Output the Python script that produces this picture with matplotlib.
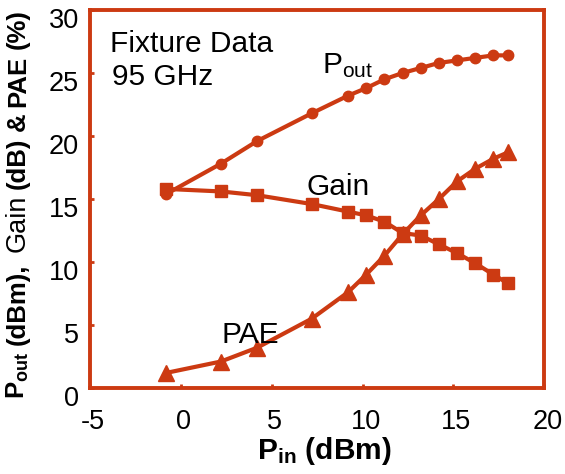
import matplotlib
matplotlib.use("Agg")
import matplotlib.pyplot as plt
from matplotlib.transforms import ScaledTranslation

plt.rcParams['font.family'] = ['Liberation Sans', 'DejaVu Sans']
plt.rcParams['mathtext.fontset'] = 'custom'
plt.rcParams['mathtext.rm'] = 'Liberation Sans'
plt.rcParams['mathtext.bf'] = 'Liberation Sans:bold'
plt.rcParams['mathtext.it'] = 'Liberation Sans:italic'

# Data
pin = [-0.8, 2.2, 4.2, 7.2, 9.2, 10.2, 11.2, 12.2, 13.2, 14.2, 15.2, 16.2, 17.2, 18.0]
pout = [15.4, 17.8, 19.6, 21.8, 23.2, 23.8, 24.5, 25.0, 25.4, 25.8, 26.0, 26.2, 26.4, 26.4]
gain = [15.8, 15.6, 15.3, 14.6, 14.0, 13.7, 13.2, 12.3, 12.1, 11.4, 10.7, 9.9, 9.0, 8.3]
pae = [1.2, 2.1, 3.2, 5.5, 7.6, 9.0, 10.5, 12.2, 13.7, 15.0, 16.4, 17.4, 18.2, 18.7]

xticks = [-5, 0, 5, 10, 15, 20]
yticks = [0, 5, 10, 15, 20, 25, 30]

C = '#CC3A12'
W, H = 565, 474
fig = plt.figure(figsize=(W / 100, H / 100), dpi=100)
ax = fig.add_axes([90 / W, 86 / H, 454.3 / W, 378 / H])

ax.plot(pin, pout, color=C, lw=3, marker='o', ms=7.5, mfc=C, mec=C)
ax.plot(pin, gain, color=C, lw=3, marker='s', ms=8.5, mfc=C, mec=C)
ax.plot(pin, pae, color=C, lw=3, marker='^', ms=11, mfc=C, mec=C)

ax.set_xlim(-5, 20)
ax.set_ylim(0, 30)
ax.set_xticks(xticks)
ax.set_yticks(yticks)
ax.set_xticklabels([str(v) for v in xticks])
ax.set_yticklabels([str(v) for v in yticks])
for s in ax.spines.values():
    s.set_color(C)
    s.set_linewidth(2.8)
ax.tick_params(direction='in', length=3, width=2, color=C, labelsize=19.5,
               labelcolor='black')
ax.tick_params(axis='x', pad=15)
ax.tick_params(axis='y', pad=8)

off_y = ScaledTranslation(0, -8 / 100, fig.dpi_scale_trans)
for lab in ax.get_yticklabels():
    lab.set_transform(lab.get_transform() + off_y)
off_x = ScaledTranslation(3 / 100, 0, fig.dpi_scale_trans)
for lab in ax.get_xticklabels():
    lab.set_transform(lab.get_transform() + off_x)

def ftext(x, y, s, **kw):
    return fig.text(x / W, 1 - y / H, s, **kw)

ftext(110, 51.7, 'Fixture Data', fontsize=21.5, va='baseline', ha='left')
ftext(112, 85, '95 GHz', fontsize=21.5, va='baseline', ha='left')
ftext(322, 73, r'$\mathrm{P_{out}}$', fontsize=21.5, va='baseline', ha='left')
ftext(307, 195, 'Gain', fontsize=21.5, va='baseline', ha='left')
ftext(222, 343, 'PAE', fontsize=21.5, va='baseline', ha='left')

ftext(324, 459, r'$\mathbf{P_{in}}$ (dBm)', fontsize=21.5, fontweight='bold',
      va='baseline', ha='center')

# y label built from pieces (Gain drawn in regular weight, rest bold)
renderer = fig.canvas.get_renderer()
pieces = [(r'$\mathbf{P_{out}}$', 'bold', 18.5, 6),
          ('(dBm),', 'bold', 18.5, 12),
          ('Gain', 'normal', 19.5, 6),
          ('(dB)', 'bold', 18.5, 6),
          ('&', 'bold', 18.5, 6),
          ('PAE', 'bold', 18.5, 6),
          ('(%)', 'bold', 18.5, 0)]
widths = []
for s, wt, fs, gap in pieces:
    t = fig.text(0, 0, s, fontsize=fs, fontweight=wt)
    widths.append(t.get_window_extent(renderer).width)
    t.remove()
total = sum(widths) + sum(p[3] for p in pieces)
xb = 25          # baseline x in pixels
ycen = 204       # centre of label in pixels from top
ypos = ycen + total / 2
for (s, wt, fs, gap), w in zip(pieces, widths):
    fig.text(xb / W, 1 - ypos / H, s, fontsize=fs, fontweight=wt,
             rotation=90, rotation_mode='anchor', ha='left', va='baseline')
    ypos -= w + gap

fig.savefig('out.png', dpi=100, facecolor='white')
